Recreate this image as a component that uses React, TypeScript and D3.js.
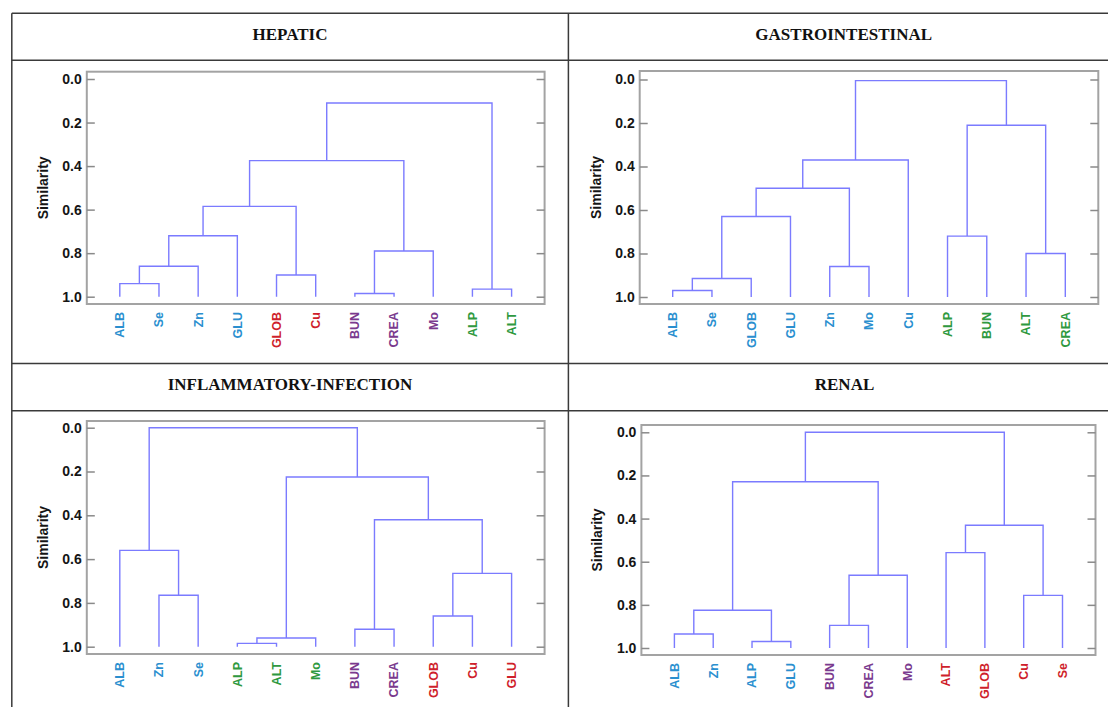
import React, { useEffect, useRef } from 'react';
import * as d3 from 'd3';

// Each dendrogram: leaf order, colour group of each leaf, and merges.
// A merge is [childA, childB, similarity]; merges are named m0, m1, ... in list order.
const hepaticLeaves = ['ALB', 'Se', 'Zn', 'GLU', 'GLOB', 'Cu', 'BUN', 'CREA', 'Mo', 'ALP', 'ALT'];
const hepaticGroups = ['blue', 'blue', 'blue', 'blue', 'red', 'red', 'purple', 'purple', 'purple', 'green', 'green'];
const hepaticMerges: [string, string, number][] = [
  ['ALB', 'Se', 0.94],
  ['m0', 'Zn', 0.86],
  ['m1', 'GLU', 0.72],
  ['GLOB', 'Cu', 0.9],
  ['m2', 'm3', 0.585],
  ['BUN', 'CREA', 0.985],
  ['m5', 'Mo', 0.79],
  ['m4', 'm6', 0.375],
  ['ALP', 'ALT', 0.965],
  ['m7', 'm8', 0.11],
];

const giLeaves = ['ALB', 'Se', 'GLOB', 'GLU', 'Zn', 'Mo', 'Cu', 'ALP', 'BUN', 'ALT', 'CREA'];
const giGroups = ['blue', 'blue', 'blue', 'blue', 'blue', 'blue', 'blue', 'green', 'green', 'green', 'green'];
const giMerges: [string, string, number][] = [
  ['ALB', 'Se', 0.97],
  ['m0', 'GLOB', 0.915],
  ['m1', 'GLU', 0.63],
  ['Zn', 'Mo', 0.86],
  ['m2', 'm3', 0.5],
  ['m4', 'Cu', 0.37],
  ['ALP', 'BUN', 0.72],
  ['ALT', 'CREA', 0.8],
  ['m6', 'm7', 0.21],
  ['m5', 'm8', 0.005],
];

const inflamLeaves = ['ALB', 'Zn', 'Se', 'ALP', 'ALT', 'Mo', 'BUN', 'CREA', 'GLOB', 'Cu', 'GLU'];
const inflamGroups = ['blue', 'blue', 'blue', 'green', 'green', 'green', 'purple', 'purple', 'red', 'red', 'red'];
const inflamMerges: [string, string, number][] = [
  ['Zn', 'Se', 0.765],
  ['ALB', 'm0', 0.56],
  ['ALP', 'ALT', 0.985],
  ['m2', 'Mo', 0.96],
  ['BUN', 'CREA', 0.92],
  ['GLOB', 'Cu', 0.86],
  ['m5', 'GLU', 0.665],
  ['m4', 'm6', 0.42],
  ['m3', 'm7', 0.225],
  ['m1', 'm8', 0.0],
];

const renalLeaves = ['ALB', 'Zn', 'ALP', 'GLU', 'BUN', 'CREA', 'Mo', 'ALT', 'GLOB', 'Cu', 'Se'];
const renalGroups = ['blue', 'blue', 'blue', 'blue', 'purple', 'purple', 'purple', 'red', 'red', 'red', 'red'];
const renalMerges: [string, string, number][] = [
  ['ALB', 'Zn', 0.935],
  ['ALP', 'GLU', 0.97],
  ['m0', 'm1', 0.825],
  ['BUN', 'CREA', 0.895],
  ['m3', 'Mo', 0.663],
  ['m2', 'm4', 0.229],
  ['ALT', 'GLOB', 0.558],
  ['Cu', 'Se', 0.756],
  ['m6', 'm7', 0.431],
  ['m5', 'm8', 0.0],
];

const simTicks = [0, 0.2, 0.4, 0.6, 0.8, 1.0];

const groupColor: Record<string, string> = {
  blue: '#2a8fcf',
  red: '#cf1f2c',
  purple: '#7a3a8e',
  green: '#2f9940',
};

const panels = [
  { title: 'HEPATIC', leaves: hepaticLeaves, groups: hepaticGroups, merges: hepaticMerges,
    box: { x0: 86.8, x1: 544.6, y0: 71.7, y1: 304, yZero: 79, yOne: 296.7 }, titleX: 290, titleY: 39.5 },
  { title: 'GASTROINTESTINAL', leaves: giLeaves, groups: giGroups, merges: giMerges,
    box: { x0: 639.7, x1: 1098.3, y0: 71, y1: 304, yZero: 79.5, yOne: 297 }, titleX: 843.7, titleY: 39.5 },
  { title: 'INFLAMMATORY-INFECTION', leaves: inflamLeaves, groups: inflamGroups, merges: inflamMerges,
    box: { x0: 86.8, x1: 544.6, y0: 421, y1: 654, yZero: 427.7, yOne: 646.7 }, titleX: 290, titleY: 390 },
  { title: 'RENAL', leaves: renalLeaves, groups: renalGroups, merges: renalMerges,
    box: { x0: 641.4, x1: 1095.5, y0: 425, y1: 655, yZero: 432.3, yOne: 648 }, titleX: 844.5, titleY: 390 },
];

const Panel = ({ p }: { p: any }) => {
  const ref = useRef<SVGGElement>(null);

  useEffect(() => {
    const g = d3.select(ref.current);
    g.selectAll('*').remove();
    const { box } = p;

    const x = d3.scalePoint().domain(p.leaves).range([box.x0 + 33, box.x1 - 33]);
    const y = d3.scaleLinear().domain([0, 1]).range([box.yZero, box.yOne]);

    // plot frame
    g.append('rect')
      .attr('x', box.x0)
      .attr('y', box.y0)
      .attr('width', box.x1 - box.x0)
      .attr('height', box.y1 - box.y0)
      .attr('fill', 'white')
      .attr('stroke', '#a3a3a3')
      .attr('stroke-width', 2);

    // minor ticks, three per 0.2 step
    const minor = d3.range(0, 16).map((i) => i / 15);

    const left = g.append('g').attr('transform', `translate(${box.x0},0)`);
    left.call(d3.axisLeft(y).tickValues(minor).tickSizeInner(-4).tickSizeOuter(0).tickFormat(() => ''));
    left.call(
      d3.axisLeft(y).tickValues(simTicks).tickSizeInner(-8).tickSizeOuter(0).tickPadding(5)
        .tickFormat(d3.format('.1f'))
    );

    const right = g.append('g').attr('transform', `translate(${box.x1},0)`);
    right.call(d3.axisRight(y).tickValues(minor).tickSizeInner(-4).tickSizeOuter(0).tickFormat(() => ''));
    right.call(d3.axisRight(y).tickValues(simTicks).tickSizeInner(-8).tickSizeOuter(0).tickFormat(() => ''));

    g.selectAll('.domain').remove();
    g.selectAll('.tick line').attr('stroke', '#8a8a8a').attr('stroke-width', 1.5);
    left.selectAll('.tick text')
      .attr('font-family', 'Arial, "Liberation Sans", sans-serif')
      .attr('font-size', 14)
      .attr('font-weight', 'bold')
      .attr('fill', '#151515');

    // axis title
    const sx = box.x0 - 44;
    const sy = (box.y0 + box.y1) / 2;
    g.append('text')
      .attr('x', sx)
      .attr('y', sy)
      .attr('transform', `rotate(-90,${sx},${sy})`)
      .attr('text-anchor', 'middle')
      .attr('dy', '0.35em')
      .attr('font-family', 'Arial, "Liberation Sans", sans-serif')
      .attr('font-size', 14)
      .attr('font-weight', 'bold')
      .attr('fill', '#151515')
      .text('Similarity');

    // dendrogram links
    const nodes: Record<string, { x: number; y: number }> = {};
    p.leaves.forEach((name: string) => {
      nodes[name] = { x: x(name) as number, y: y(1) };
    });
    const links: string[] = [];
    p.merges.forEach((m: [string, string, number], i: number) => {
      const a = nodes[m[0]];
      const b = nodes[m[1]];
      const ym = y(m[2]);
      links.push(`M${a.x},${a.y}V${ym}H${b.x}V${b.y}`);
      nodes['m' + i] = { x: (a.x + b.x) / 2, y: ym };
    });

    g.selectAll('path.link')
      .data(links)
      .enter()
      .append('path')
      .attr('class', 'link')
      .attr('d', (d) => d)
      .attr('fill', 'none')
      .attr('stroke', '#7b7bff')
      .attr('stroke-width', 1.4);

    // leaf labels
    const ly = box.y1 + 8;
    g.selectAll('text.leaf')
      .data(p.leaves)
      .enter()
      .append('text')
      .attr('class', 'leaf')
      .attr('x', (d: any) => x(d) as number)
      .attr('y', ly)
      .attr('transform', (d: any) => `rotate(-90,${x(d)},${ly})`)
      .attr('text-anchor', 'end')
      .attr('dy', '0.35em')
      .attr('font-family', 'Arial, "Liberation Sans", sans-serif')
      .attr('font-size', 12.5)
      .attr('font-weight', 'bold')
      .attr('fill', (d: any, i: number) => groupColor[p.groups[i]])
      .text((d: any) => d);
  }, [p]);

  return <g ref={ref} />;
};

export default function App() {
  const lineColor = '#3a3a3a';
  return (
    <svg width={1108} height={707} style={{ position: 'absolute', left: 0, top: 0, background: 'white' }}>
      <rect x={0} y={0} width={1108} height={707} fill="white" />
      {/* table grid */}
      <line x1={11.8} x2={1108} y1={13.3} y2={13.3} stroke={lineColor} strokeWidth={1.5} />
      <line x1={11.8} x2={1108} y1={60.3} y2={60.3} stroke={lineColor} strokeWidth={1.5} />
      <line x1={11.8} x2={1108} y1={363.5} y2={363.5} stroke={lineColor} strokeWidth={1.5} />
      <line x1={11.8} x2={1108} y1={410.7} y2={410.7} stroke={lineColor} strokeWidth={1.5} />
      <line x1={11.8} x2={11.8} y1={13.3} y2={707} stroke={lineColor} strokeWidth={1.5} />
      <line x1={568.4} x2={568.4} y1={13.3} y2={707} stroke={lineColor} strokeWidth={1.5} />
      {panels.map((p) => (
        <text
          key={p.title + '-t'}
          x={p.titleX}
          y={p.titleY}
          textAnchor="middle"
          fontFamily='"Times New Roman", "Liberation Serif", serif'
          fontWeight="bold"
          fontSize={17}
          fill="#111"
        >
          {p.title}
        </text>
      ))}
      {panels.map((p) => (
        <Panel key={p.title} p={p} />
      ))}
    </svg>
  );
}
